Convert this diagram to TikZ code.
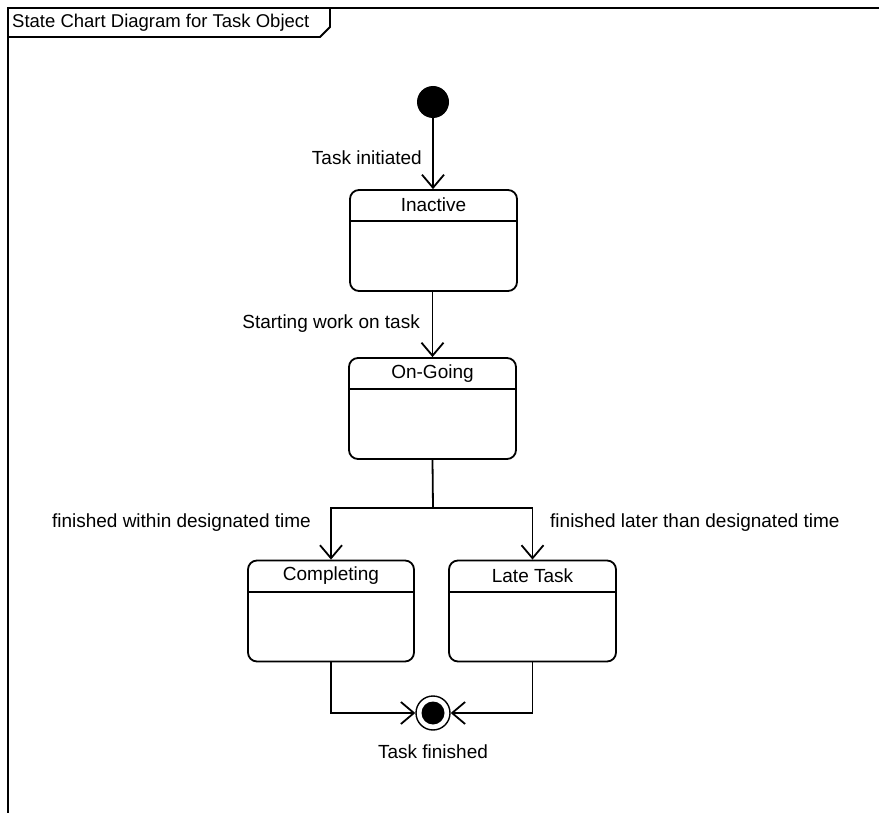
\documentclass[tikz,border=0pt]{standalone}
\usepackage{fontspec}
\setmainfont{Liberation Sans}
\usetikzlibrary{arrows.meta,calc}
\begin{document}
\begin{tikzpicture}[x=1pt,y=-1pt,
  every node/.style={font=\fontsize{19}{22}\selectfont},
  line/.style={line width=1.8pt},
  flow/.style={line, -{Straight Barb[length=13pt,width=22pt,line width=1.8pt]}},
  statebox/.style={draw, line width=1.8pt, rounded corners=9pt, minimum width=167pt, minimum height=101pt, inner sep=0pt},
  statename/.style={inner sep=0pt, anchor=center},
  lbl/.style={inner sep=0pt}]
  \useasboundingbox (0,0) rectangle (879,813);

  % diagram frame and its name tab
  \draw[line] (8,813) -- (8,8) -- (879,8);
  \draw[line] (8,37) -- (320,37) -- (330,27) -- (330,8);
  \node[lbl, anchor=west, font=\fontsize{18.5}{22}\selectfont] (frametitle) at (12,23) {State Chart Diagram for Task Object};

  % initial state
  \node[circle, fill=black, minimum size=32pt, inner sep=0pt] (start) at (433,102) {};

  % states
  \node[statebox] (inactive) at (433.5,240.5) {};
  \node[statebox] (ongoing) at (432.5,408.5) {};
  \node[statebox, minimum width=166pt] (completing) at (331,611) {};
  \node[statebox] (late) at (532.5,611) {};
  \foreach \s in {inactive,ongoing,completing,late}
    \draw[line] ($(\s.north west)+(0,32)$) -- ($(\s.north east)+(0,32)$);
  \node[statename] (inactive-name) at ($(inactive.north)+(0,16)$) {Inactive};
  \node[statename] (ongoing-name) at ($(ongoing.north)+(0,16)$) {On-Going};
  \node[statename] (completing-name) at ($(completing.north)+(0,16)$) {Completing};
  \node[statename] (late-name) at ($(late.north)+(0,16)$) {Late Task};

  % final state
  \node[circle, draw, line width=1.4pt, fill=white, minimum size=34pt, inner sep=0pt] (final) at (433,713) {};
  \node[circle, fill=black, minimum size=23pt, inner sep=0pt] (final-dot) at (final.center) {};
  \node[lbl] (final-name) at (433,752) {Task finished};

  % transitions
  \draw[flow] (start.south) -- (start.south |- inactive.north);
  \node[lbl, anchor=east] (t1) at (422,158) {Task initiated};

  \draw[flow] (inactive.south -| ongoing.north) -- (ongoing.north);
  \node[lbl, anchor=east] (t2) at (420,324) {Starting work on task};

  \coordinate (fork) at (433,508);
  \draw[line] (ongoing.south) -- (fork);
  \draw[flow] (fork) -| (completing.north);
  \draw[flow] (fork) -| (late.north);
  \node[lbl, anchor=east] (t3) at (311,523) {finished within designated time};
  \node[lbl, anchor=west] (t4) at (550,523) {finished later than designated time};

  \draw[flow] (completing.south) |- (final.west);
  \draw[flow] (late.south) |- (final.east);
\end{tikzpicture}
\end{document}
